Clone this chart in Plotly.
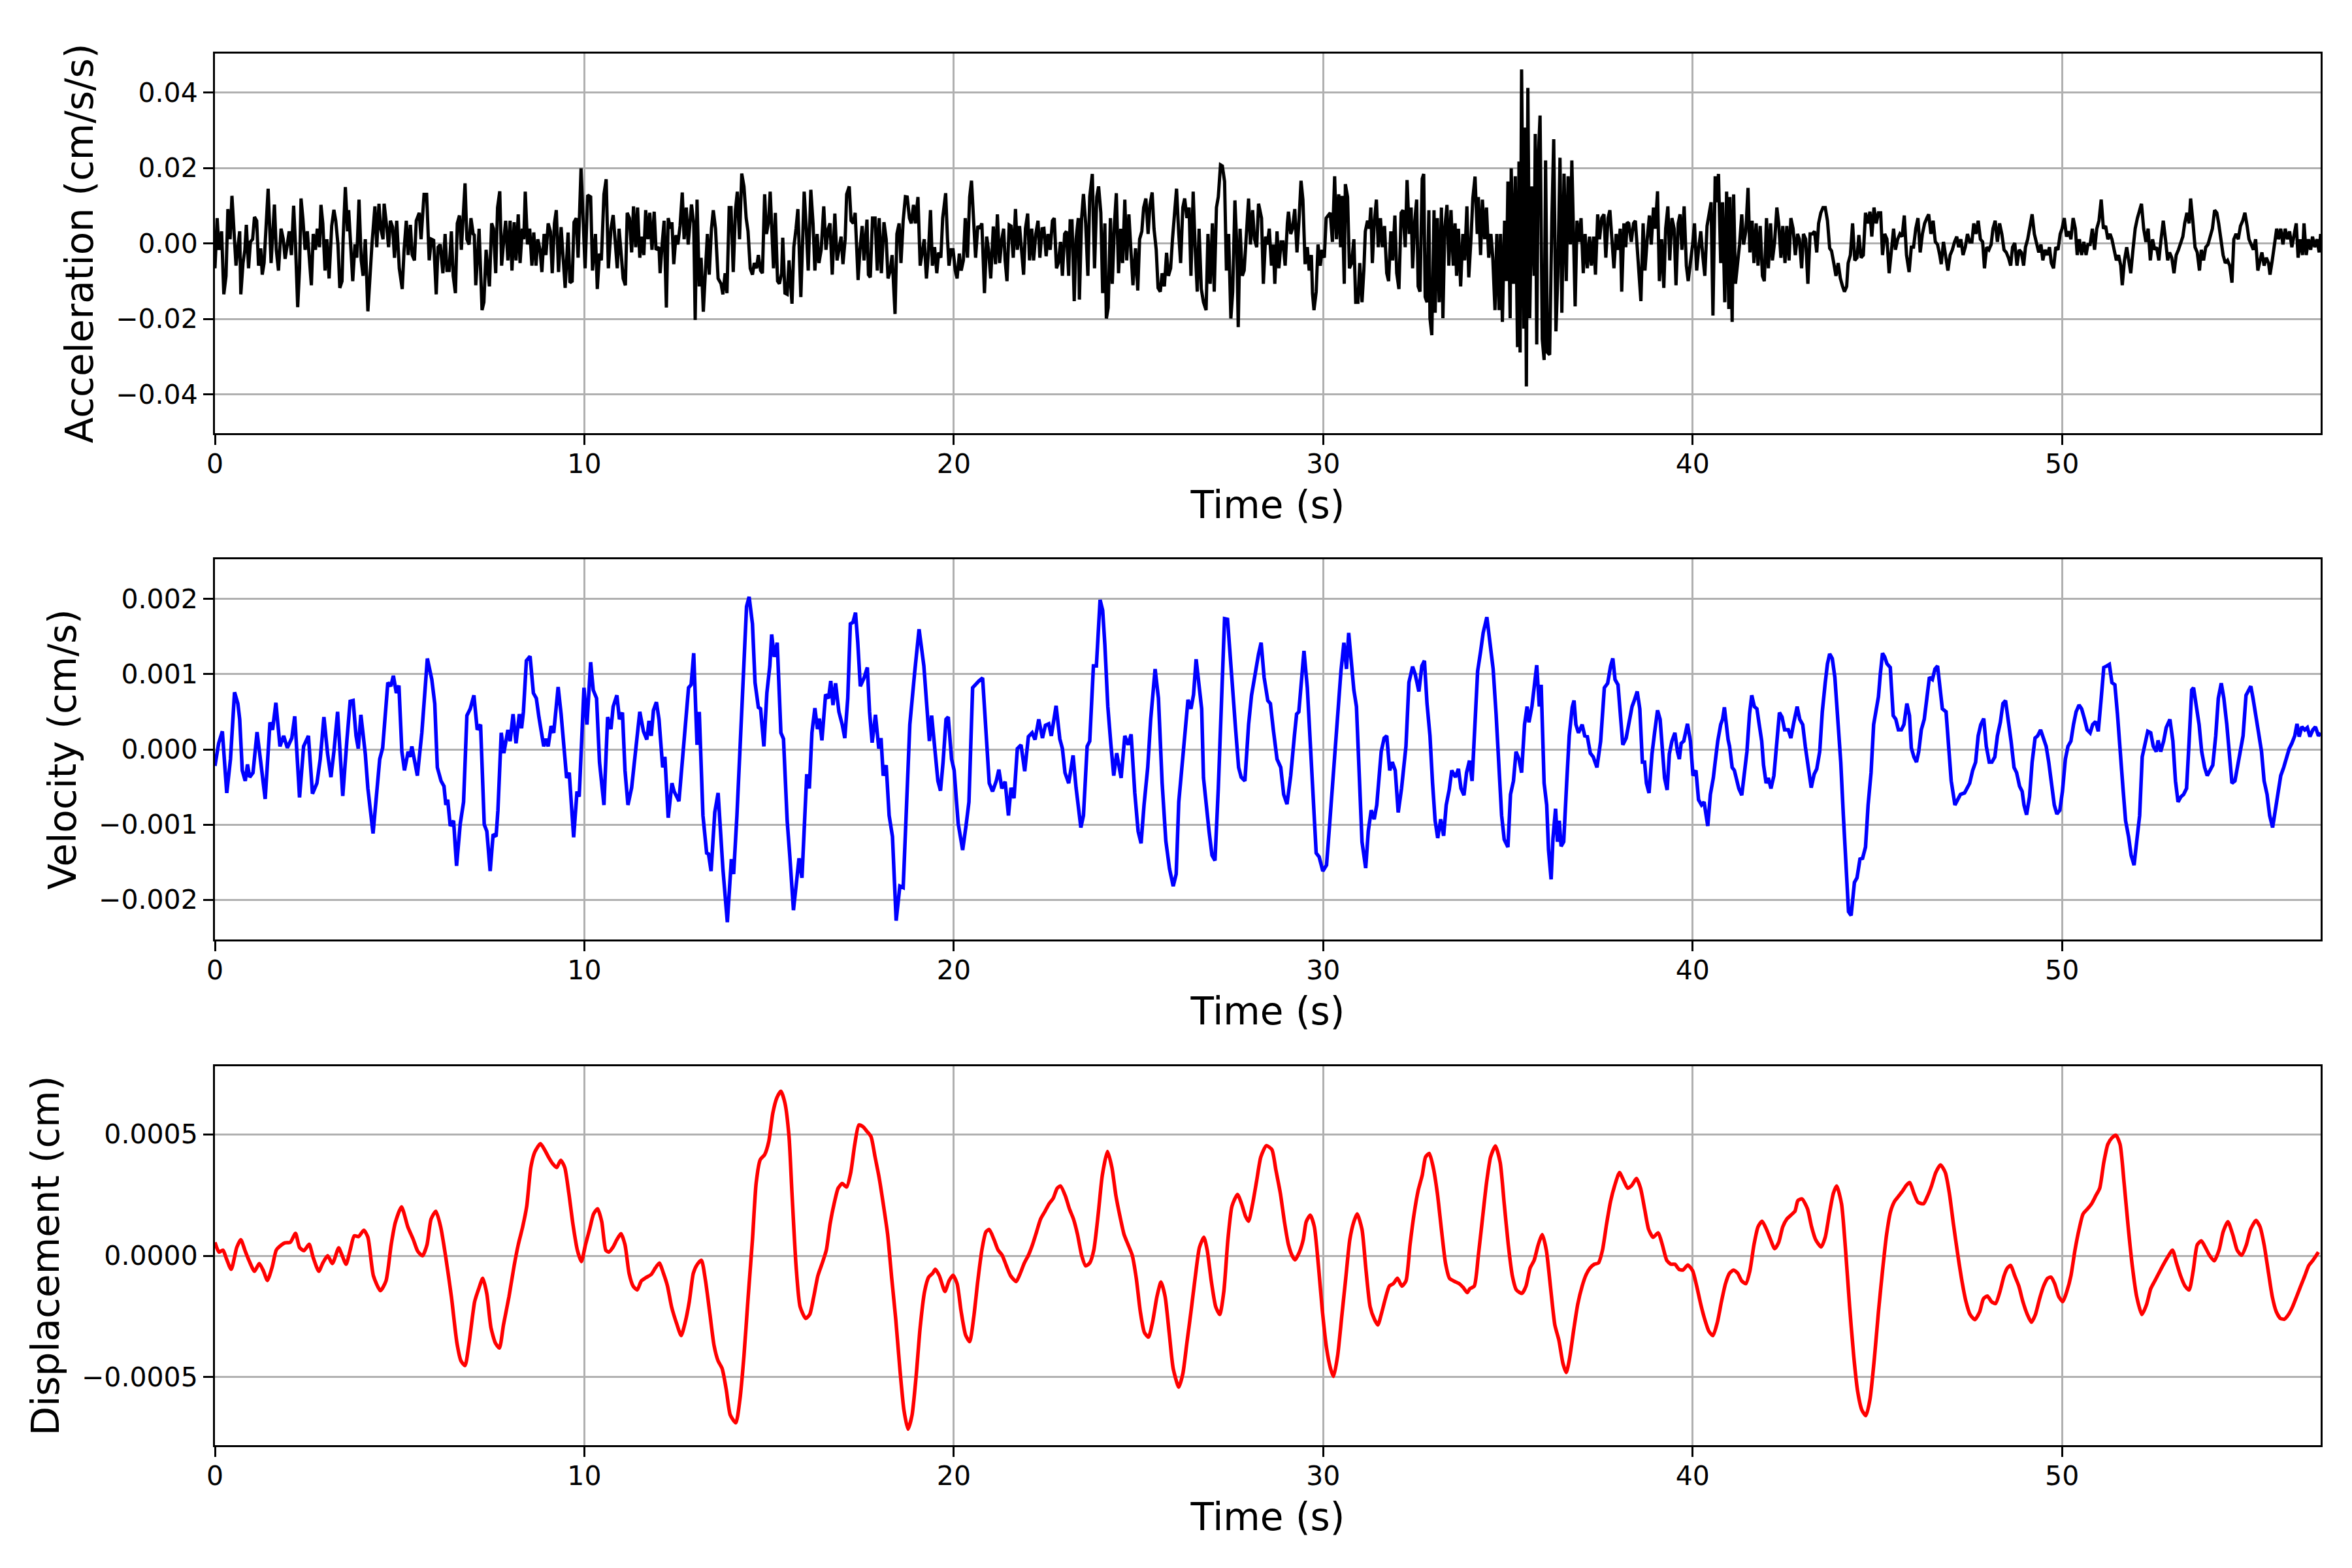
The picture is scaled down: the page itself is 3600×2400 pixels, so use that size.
import numpy as np
import plotly.graph_objects as go

# ---- data (time in s) ----
# acceleration, in units of 1e-3 cm/s/s
acc_time = [
    0.00, 0.06, 0.11, 0.18, 0.24, 0.30, 0.35, 0.41, 0.46, 0.52,
    0.57, 0.63, 0.67, 0.70, 0.76, 0.81, 0.85, 0.91, 0.96, 1.02,
    1.07, 1.13, 1.18, 1.24, 1.28, 1.33, 1.39, 1.44, 1.52, 1.57,
    1.61, 1.66, 1.72, 1.79, 1.85, 1.90, 1.96, 2.01, 2.07, 2.13,
    2.18, 2.24, 2.29, 2.33, 2.38, 2.44, 2.50, 2.55, 2.61, 2.66,
    2.72, 2.77, 2.83, 2.87, 2.92, 2.98, 3.03, 3.09, 3.16, 3.22,
    3.27, 3.33, 3.38, 3.44, 3.47, 3.53, 3.59, 3.62, 3.68, 3.73,
    3.79, 3.84, 3.90, 3.96, 4.01, 4.07, 4.14, 4.20, 4.25, 4.33,
    4.38, 4.44, 4.49, 4.55, 4.58, 4.64, 4.70, 4.75, 4.81, 4.86,
    4.92, 4.99, 5.07, 5.12, 5.18, 5.23, 5.29, 5.34, 5.40, 5.45,
    5.53, 5.58, 5.66, 5.73, 5.80, 5.86, 5.92, 5.99, 6.04, 6.10,
    6.17, 6.23, 6.28, 6.34, 6.40, 6.45, 6.51, 6.56, 6.62, 6.67,
    6.71, 6.77, 6.82, 6.88, 6.93, 6.99, 7.02, 7.06, 7.12, 7.15,
    7.23, 7.28, 7.34, 7.38, 7.43, 7.49, 7.54, 7.60, 7.65, 7.71,
    7.76, 7.82, 7.87, 7.93, 7.99, 8.04, 8.10, 8.15, 8.21, 8.26,
    8.32, 8.36, 8.40, 8.46, 8.52, 8.58, 8.63, 8.69, 8.74, 8.80,
    8.85, 8.91, 8.96, 9.02, 9.08, 9.13, 9.19, 9.24, 9.30, 9.37,
    9.43, 9.48, 9.56, 9.61, 9.67, 9.72, 9.78, 9.83, 9.91, 9.96,
    10.02, 10.09, 10.17, 10.22, 10.30, 10.35, 10.41, 10.46, 10.53, 10.59,
    10.65, 10.72, 10.78, 10.83, 10.89, 10.94, 11.00, 11.05, 11.11, 11.16,
    11.22, 11.28, 11.33, 11.39, 11.44, 11.50, 11.55, 11.61, 11.66, 11.72,
    11.77, 11.83, 11.89, 11.94, 12.02, 12.05, 12.11, 12.16, 12.22, 12.27,
    12.33, 12.37, 12.42, 12.48, 12.53, 12.59, 12.65, 12.70, 12.76, 12.81,
    12.90, 12.96, 13.00, 13.05, 13.11, 13.16, 13.22, 13.27, 13.33, 13.38,
    13.44, 13.49, 13.55, 13.62, 13.70, 13.75, 13.81, 13.86, 13.92, 13.97,
    14.03, 14.09, 14.14, 14.20, 14.26, 14.32, 14.38, 14.43, 14.49, 14.55,
    14.60, 14.66, 14.71, 14.77, 14.82, 14.88, 14.93, 14.99, 15.03, 15.08,
    15.12, 15.17, 15.23, 15.28, 15.34, 15.37, 15.43, 15.49, 15.54, 15.62,
    15.67, 15.73, 15.78, 15.86, 15.91, 15.95, 16.00, 16.06, 16.13, 16.19,
    16.24, 16.30, 16.35, 16.41, 16.48, 16.54, 16.60, 16.65, 16.71, 16.78,
    16.84, 16.89, 16.95, 17.00, 17.06, 17.10, 17.17, 17.22, 17.28, 17.33,
    17.41, 17.46, 17.52, 17.57, 17.65, 17.69, 17.74, 17.80, 17.87, 17.93,
    17.98, 18.04, 18.11, 18.17, 18.22, 18.28, 18.33, 18.41, 18.46, 18.52,
    18.57, 18.63, 18.69, 18.74, 18.80, 18.85, 18.91, 18.96, 19.03, 19.09,
    19.15, 19.20, 19.26, 19.31, 19.37, 19.42, 19.48, 19.54, 19.59, 19.65,
    19.70, 19.78, 19.83, 19.87, 19.93, 19.98, 20.04, 20.09, 20.15, 20.20,
    20.26, 20.31, 20.37, 20.43, 20.48, 20.54, 20.59, 20.65, 20.70, 20.76,
    20.83, 20.89, 20.94, 21.00, 21.07, 21.13, 21.18, 21.24, 21.30, 21.35,
    21.39, 21.44, 21.50, 21.55, 21.61, 21.67, 21.72, 21.78, 21.83, 21.89,
    21.94, 22.00, 22.05, 22.11, 22.16, 22.22, 22.28, 22.33, 22.39, 22.44,
    22.50, 22.55, 22.61, 22.67, 22.72, 22.78, 22.83, 22.89, 22.94, 23.00,
    23.05, 23.11, 23.15, 23.20, 23.26, 23.31, 23.37, 23.40, 23.46, 23.51,
    23.57, 23.63, 23.68, 23.75, 23.81, 23.87, 23.92, 23.98, 24.03, 24.09,
    24.13, 24.18, 24.24, 24.29, 24.35, 24.40, 24.46, 24.52, 24.57, 24.63,
    24.68, 24.74, 24.79, 24.85, 24.92, 24.98, 25.03, 25.09, 25.14, 25.20,
    25.26, 25.31, 25.37, 25.42, 25.48, 25.53, 25.59, 25.64, 25.70, 25.76,
    25.81, 25.87, 25.92, 25.98, 26.03, 26.09, 26.14, 26.20, 26.25, 26.31,
    26.37, 26.42, 26.48, 26.53, 26.59, 26.64, 26.70, 26.76, 26.83, 26.88,
    26.94, 27.00, 27.05, 27.11, 27.16, 27.22, 27.27, 27.33, 27.38, 27.44,
    27.50, 27.55, 27.61, 27.66, 27.70, 27.75, 27.81, 27.86, 27.92, 27.98,
    28.03, 28.09, 28.14, 28.20, 28.25, 28.33, 28.38, 28.44, 28.49, 28.54,
    28.60, 28.65, 28.69, 28.75, 28.80, 28.86, 28.91, 28.97, 29.03, 29.06,
    29.12, 29.17, 29.23, 29.29, 29.34, 29.40, 29.45, 29.51, 29.57, 29.62,
    29.68, 29.71, 29.75, 29.81, 29.86, 29.92, 29.97, 30.03, 30.08, 30.14,
    30.19, 30.25, 30.31, 30.36, 30.42, 30.47, 30.51, 30.57, 30.60, 30.66,
    30.71, 30.77, 30.83, 30.88, 30.94, 30.99, 31.05, 31.10, 31.14, 31.20,
    31.25, 31.29, 31.33, 31.38, 31.44, 31.49, 31.55, 31.60, 31.66, 31.72,
    31.77, 31.83, 31.88, 31.94, 31.99, 32.05, 32.11, 32.16, 32.22, 32.27,
    32.33, 32.38, 32.42, 32.48, 32.53, 32.57, 32.62, 32.68, 32.72, 32.76,
    32.81, 32.86, 32.89, 32.94, 33.00, 33.03, 33.09, 33.14, 33.20, 33.24,
    33.29, 33.35, 33.40, 33.46, 33.52, 33.57, 33.61, 33.66, 33.72, 33.78,
    33.83, 33.89, 33.94, 34.00, 34.05, 34.11, 34.17, 34.20, 34.26, 34.31,
    34.37, 34.42, 34.48, 34.54, 34.59, 34.65, 34.70, 34.76, 34.80, 34.85,
    34.91, 34.96, 35.00, 35.06, 35.09, 35.15, 35.20, 35.26, 35.30, 35.33,
    35.37, 35.43, 35.46, 35.50, 35.54, 35.59, 35.65, 35.71, 35.74, 35.78,
    35.82, 35.87, 35.93, 35.98, 36.02, 36.07, 36.13, 36.19, 36.24, 36.30,
    36.35, 36.41, 36.46, 36.52, 36.58, 36.63, 36.69, 36.73, 36.78, 36.82,
    36.87, 36.93, 36.98, 37.04, 37.09, 37.15, 37.21, 37.26, 37.32, 37.37,
    37.43, 37.48, 37.54, 37.60, 37.65, 37.71, 37.76, 37.82, 37.87, 37.93,
    37.99, 38.04, 38.08, 38.14, 38.19, 38.23, 38.27, 38.34, 38.40, 38.45,
    38.51, 38.56, 38.60, 38.66, 38.71, 38.77, 38.83, 38.88, 38.94, 38.99,
    39.05, 39.10, 39.16, 39.22, 39.27, 39.33, 39.38, 39.44, 39.50, 39.55,
    39.61, 39.66, 39.71, 39.77, 39.83, 39.88, 39.94, 40.00, 40.05, 40.11,
    40.16, 40.22, 40.28, 40.33, 40.39, 40.44, 40.50, 40.55, 40.61, 40.66,
    40.70, 40.76, 40.81, 40.87, 40.92, 40.98, 41.01, 41.07, 41.11, 41.16,
    41.22, 41.27, 41.33, 41.38, 41.44, 41.50, 41.55, 41.61, 41.66, 41.72,
    41.77, 41.83, 41.89, 41.94, 42.00, 42.05, 42.11, 42.16, 42.22, 42.28,
    42.33, 42.39, 42.44, 42.50, 42.55, 42.61, 42.66, 42.72, 42.78, 42.84,
    42.89, 42.95, 43.00, 43.06, 43.12, 43.18, 43.24, 43.30, 43.36, 43.41,
    43.47, 43.53, 43.59, 43.65, 43.71, 43.76, 43.82, 43.88, 43.94, 44.00,
    44.06, 44.11, 44.17, 44.21, 44.27, 44.33, 44.39, 44.45, 44.50, 44.56,
    44.62, 44.68, 44.74, 44.80, 44.85, 44.91, 44.97, 45.03, 45.09, 45.14,
    45.20, 45.26, 45.32, 45.38, 45.44, 45.49, 45.55, 45.61, 45.67, 45.73,
    45.79, 45.86, 45.92, 45.98, 46.04, 46.10, 46.16, 46.22, 46.28, 46.34,
    46.39, 46.45, 46.51, 46.57, 46.63, 46.69, 46.73, 46.79, 46.85, 46.91,
    46.97, 47.03, 47.09, 47.15, 47.20, 47.26, 47.32, 47.38, 47.44, 47.50,
    47.56, 47.61, 47.67, 47.73, 47.79, 47.85, 47.90, 47.96, 48.02, 48.08,
    48.13, 48.19, 48.25, 48.31, 48.37, 48.43, 48.49, 48.55, 48.61, 48.66,
    48.72, 48.78, 48.84, 48.90, 48.96, 49.01, 49.07, 49.13, 49.19, 49.25,
    49.31, 49.37, 49.43, 49.48, 49.54, 49.60, 49.66, 49.71, 49.77, 49.83,
    49.89, 49.95, 50.00, 50.06, 50.12, 50.18, 50.24, 50.30, 50.36, 50.41,
    50.47, 50.53, 50.59, 50.65, 50.70, 50.76, 50.82, 50.88, 50.94, 51.00,
    51.06, 51.12, 51.18, 51.24, 51.30, 51.35, 51.41, 51.47, 51.53, 51.59,
    51.63, 51.69, 51.75, 51.80, 51.86, 51.92, 51.98, 52.04, 52.10, 52.15,
    52.21, 52.27, 52.33, 52.39, 52.45, 52.51, 52.56, 52.62, 52.68, 52.74,
    52.80, 52.86, 52.91, 52.97, 53.03, 53.09, 53.15, 53.21, 53.27, 53.32,
    53.38, 53.44, 53.48, 53.54, 53.60, 53.66, 53.72, 53.77, 53.83, 53.89,
    53.95, 54.01, 54.07, 54.13, 54.19, 54.24, 54.30, 54.36, 54.42, 54.48,
    54.54, 54.60, 54.65, 54.71, 54.77, 54.83, 54.89, 54.95, 55.01, 55.06,
    55.12, 55.18, 55.24, 55.30, 55.36, 55.41, 55.47, 55.53, 55.59, 55.63,
    55.69, 55.75, 55.81, 55.86, 55.92, 55.98, 56.04, 56.10, 56.16, 56.22,
    56.28, 56.34, 56.39, 56.45, 56.51, 56.55, 56.61, 56.67, 56.73, 56.78,
    56.84, 56.90, 56.96, 57.00,
]
acc_milli = [
    -6.6, 6.7, -1.7, 3.2, -13.5, -8.6, 9.1, 1.1, 12.6, 3.9,
    -5.9, -0.3, 3.2, -13.5, -5.2, -1.7, 4.9, -6.6, 0.4, 1.1,
    7.0, 6.0, -5.9, -1.3, -8.3, -5.2, 3.9, 14.5, -5.2, 3.9,
    10.3, -1.7, -7.2, 3.9, 1.1, -4.1, -0.3, 3.2, -3.1, 10.0,
    -0.3, -16.9, -6.6, 11.9, 6.7, -1.7, 3.2, -3.1, -11.1, 2.5,
    -1.7, 3.9, -1.0, 10.2, 5.3, -7.2, 1.1, -9.3, 4.6, 8.9,
    6.0, -0.3, -11.8, -10.0, 1.1, 14.9, 3.2, 8.8, -1.7, -10.0,
    -0.3, -3.8, 11.6, -4.5, -8.6, 1.1, -18.0, -7.2, -0.3, 9.8,
    -1.0, 10.5, 3.9, 1.1, 10.5, 5.3, -1.0, 6.0, 4.3, -3.8,
    6.0, -6.6, -12.1, -1.7, 6.0, -3.1, 4.9, -3.1, -4.5, 6.0,
    8.1, 1.1, 13.0, 13.0, -4.5, 1.1, 0.8, -13.5, -1.0, -0.3,
    -7.9, 2.5, -7.2, -7.2, 3.2, -8.6, -13.2, 5.3, 7.4, -1.7,
    6.7, 15.9, 1.1, -0.3, 6.7, 2.5, 2.2, -11.1, -1.7, 3.9,
    -17.7, -15.6, -1.7, -5.2, -11.4, 5.3, 3.9, -7.9, 9.5, 13.8,
    -5.9, 1.1, 6.0, -4.5, 6.0, -7.2, 5.6, -4.5, 7.7, -5.2,
    3.9, 1.1, 13.7, -0.3, 3.9, -5.9, 2.9, -5.9, 1.1, -1.7,
    -7.6, 2.5, -3.1, 5.3, 3.2, -7.9, 5.3, 8.8, -7.6, 4.3,
    -4.5, -11.8, 2.9, -10.4, -10.0, 5.6, 6.7, -3.8, 19.9, 5.3,
    -6.6, 12.8, 12.3, -7.2, 2.5, -12.1, -2.7, -4.5, 13.0, 17.0,
    -6.6, 3.9, 7.5, 1.1, -6.6, 3.9, -3.8, -9.3, -11.1, 8.1,
    6.7, -2.4, 9.8, -1.0, 9.5, -3.8, 1.8, -3.1, 8.8, 1.1,
    8.1, -1.7, 8.4, -1.7, -1.0, -7.9, 0.4, 6.0, -17.0, 6.7,
    3.9, 5.6, -5.5, 2.2, -0.3, 4.6, 13.5, 1.1, 9.5, -0.3,
    10.3, 5.3, -20.3, 11.6, -11.4, -3.8, -18.1, -7.2, 2.5, -8.3,
    3.9, 8.8, 3.9, -9.3, -10.7, -13.5, -7.9, -13.2, 9.5, 9.5,
    -7.6, 8.8, 13.7, 1.1, 18.5, 15.1, 6.7, 3.2, -6.6, -8.3,
    -5.2, -6.6, -3.1, -7.2, -7.9, 13.0, 2.5, 6.0, 13.7, 2.5,
    -6.6, 8.1, -10.0, -10.7, -7.9, 1.5, -13.2, -13.5, -4.5, -16.0,
    -1.0, 3.9, 9.1, -14.2, 3.9, 13.7, 5.3, -7.2, 14.2, 5.3,
    -7.2, 2.5, -5.2, -1.7, 9.8, -1.7, 3.9, 5.3, -8.3, 7.9,
    -4.5, -1.0, 1.8, -5.5, 1.1, 13.0, 15.1, 6.0, 5.3, 8.1,
    -9.7, -1.7, 4.6, -4.5, 6.3, -8.3, -9.0, 6.7, 6.7, -7.2,
    6.7, -7.9, 5.6, 1.1, -9.3, -7.2, -3.1, -18.7, 2.5, 5.3,
    -5.2, 6.0, 12.4, 12.3, 6.7, 5.3, 10.2, 5.3, 12.3, -5.9,
    -1.7, 1.1, -9.3, -3.1, 8.8, -5.9, -1.0, -7.9, -2.4, -3.8,
    6.7, 13.3, 1.1, -5.9, -1.7, -1.7, -7.2, -9.3, -2.7, -7.2,
    -4.5, 6.7, -3.8, 12.3, 16.6, 5.3, -3.8, 4.6, 3.9, 5.3,
    -13.2, 1.8, -1.7, -9.3, 4.5, -5.5, 7.7, -5.2, 1.1, 3.9,
    -4.5, -10.0, 4.9, 4.6, -3.8, 9.1, -1.7, 4.6, -0.3, -8.3,
    3.9, 7.9, -4.5, 3.9, -4.5, 2.5, 6.0, -3.8, 3.9, 4.0,
    -3.4, 2.5, -1.7, 6.0, 6.7, -6.6, -5.2, 0.4, -8.6, 2.5,
    3.2, -8.6, 6.0, 6.0, -15.3, 1.1, 6.7, -14.9, 6.7, 13.1,
    5.3, -8.6, 12.3, 18.4, -6.6, 12.3, 15.1, 8.1, -13.2, 5.3,
    -19.9, -17.0, 6.7, -10.7, 5.3, 13.3, -7.9, 3.9, -5.2, 11.6,
    -4.5, 7.7, -1.0, -11.1, -1.3, -12.5, 1.1, 3.2, 9.5, 11.9,
    2.5, 10.2, 13.5, 3.9, -1.7, -11.8, -12.8, -7.9, -11.4, -2.5,
    -8.6, -6.6, 1.1, 8.8, 14.5, 2.5, -5.2, 9.5, 11.9, 6.7,
    9.5, -8.6, 13.7, -0.3, -12.8, 3.9, -12.1, -15.6, -17.7, 2.5,
    -10.7, 5.3, -12.8, 9.5, 12.3, 20.8, 20.5, 16.4, -7.2, 2.5,
    -19.9, -12.8, 11.4, -0.3, -22.2, 3.9, -8.6, -7.2, 2.5, 11.9,
    -0.3, 8.8, 1.1, -1.0, 10.5, 6.7, -10.7, 1.8, -0.3, 3.9,
    -5.9, -0.3, -10.7, 3.2, -6.6, 0.4, 0.4, -5.9, 5.3, 8.4,
    2.5, 3.9, 9.1, -2.4, 5.3, 16.6, 11.6, -5.5, -1.0, -7.2,
    -3.1, -13.2, -17.7, -12.8, -0.3, -5.9, -1.7, -3.8, 6.7, 7.4,
    8.1, 0.4, 17.8, 1.1, 13.0, -1.0, 12.6, -10.7, 15.7, 12.3,
    -6.6, -5.2, 1.1, -15.6, -15.6, -5.2, -15.6, -7.2, 3.2, 6.0,
    3.9, 9.5, -5.2, 5.3, 11.6, -1.0, 6.7, -1.0, 4.6, -7.9,
    -10.0, 3.2, -4.5, 7.4, -7.9, -12.1, 8.1, 8.8, -1.0, 16.8,
    2.5, 9.5, -6.6, 6.0, 11.6, -11.4, -12.8, 17.1, 18.4, -14.2,
    -15.6, 8.8, -19.8, -24.3, 8.8, -18.4, 6.7, -15.6, 9.5, -19.8,
    3.9, 10.2, -5.9, 8.8, -5.9, 5.3, -8.6, 3.9, -11.4, 2.5,
    -4.5, 9.8, -9.0, 1.1, 11.9, 17.7, 2.5, 12.3, -3.1, 11.6,
    1.1, 9.5, -3.8, 2.5, -3.8, -17.7, 2.5, -17.7, 2.5, -20.8,
    6.0, -10.0, 16.4, -19.8, 19.9, -10.7, 17.8, -27.5, 21.7, -28.9,
    46.1, -22.6, 30.7, -37.9, 41.2, -19.8, 15.1, -8.6, 29.0, -26.8,
    22.0, 33.9, -25.4, -30.9, 22.0, -28.9, -29.5, 6.7, 27.6, -23.3,
    -8.6, 22.7, -18.4, 18.5, -10.0, 17.8, -0.3, 22.0, -5.9, -16.7,
    6.0, 0.4, 6.7, -7.9, 2.5, -6.6, 1.8, -5.9, 1.8, -8.3,
    7.7, 1.1, 6.7, 7.7, -3.8, 6.7, 8.8, -0.3, -6.6, 2.5,
    -1.7, 3.9, -12.8, 5.3, -1.0, 5.6, 5.3, 0.4, 5.3, 6.0,
    -3.8, -8.6, -15.3, 5.3, -7.2, 1.1, 7.4, -0.3, 9.5, 3.9,
    13.8, -10.0, 1.1, -11.8, 3.9, 9.8, -4.5, 6.7, 3.9, -11.1,
    5.3, 7.7, -1.7, 9.8, -5.9, -10.0, -5.9, -0.3, 5.3, -7.2,
    -1.7, 3.2, -3.8, -8.6, 4.6, 8.1, 10.9, -19.1, 17.8, 10.9,
    18.4, -5.2, 10.9, -15.6, 13.7, -17.4, 12.3, -20.8, 13.0, -10.7,
    -5.9, -0.3, 7.7, -0.3, 3.2, 14.7, -2.4, 6.0, -5.2, 5.3,
    -5.9, 4.6, -8.6, -10.0, 6.7, -6.6, 5.3, -4.5, 0.4, 9.5,
    5.3, -3.8, 4.6, -5.2, 4.6, -4.5, 6.7, 3.9, -3.1, 2.5,
    1.1, -6.6, 2.5, 1.1, -10.7, 2.5, 2.5, 3.2, -2.4, 5.3,
    8.1, 9.5, 9.5, 6.0, -1.3, -2.0, -5.2, -8.6, -5.2, -9.3,
    -11.4, -12.8, -11.4, -5.2, -3.1, 5.3, -4.5, -3.8, 2.2, -3.8,
    -3.1, 8.1, 5.3, 8.4, 1.8, 9.5, 5.3, 8.1, 8.1, -3.1,
    2.5, 1.1, -7.9, -1.0, 3.9, -1.7, 1.1, 2.5, 1.8, 7.4,
    -3.1, -7.6, -1.0, -1.0, 3.9, 6.7, -2.4, 2.5, 5.3, 6.7,
    7.7, 2.5, 6.0, 0.4, -0.3, -3.1, -5.5, 0.4, -3.1, -7.2,
    -3.1, -1.7, 0.4, 1.8, -1.0, 1.1, -3.1, -1.0, 2.5, 0.4,
    0.4, 5.3, 2.5, 6.0, 1.1, 0.4, -6.6, -1.0, -1.7, -0.3,
    3.9, 6.0, 0.4, 5.3, 2.5, -1.7, -2.4, -3.8, -5.9, -1.0,
    0.1, -5.9, -1.7, -2.4, -5.9, -1.0, 1.1, 4.6, 7.7, 2.5,
    0.4, -2.4, -0.3, -4.5, -1.7, -3.1, -1.0, -5.2, -6.6, -1.0,
    -1.7, 2.5, 3.9, 6.7, 1.8, 3.2, 1.1, 6.7, 3.9, -3.1,
    1.1, -3.1, 0.4, -3.1, -0.3, -0.3, 3.9, -1.7, 3.9, 6.0,
    11.6, 3.9, 4.6, 1.1, 2.5, 1.1, -1.7, -4.5, -3.1, -5.9,
    -11.1, -4.5, -1.0, -4.5, -7.9, -1.7, 3.9, 6.7, 8.8, 10.5,
    3.9, 0.4, 3.9, -4.5, 1.1, -1.7, -1.0, -4.5, 1.1, 6.0,
    1.1, -4.5, -2.4, -3.8, -7.9, -3.1, -1.7, 0.4, 1.8, 5.3,
    8.1, 5.3, 11.9, 6.0, -1.0, -2.4, -7.2, -1.7, -4.5, -1.0,
    -0.3, 1.8, 3.9, 8.8, 8.1, 5.3, 1.1, -3.1, -5.2, -4.5,
    -5.9, -10.4, 1.1, 2.5, 1.1, 4.6, 6.0, 8.1, 4.6, 1.1,
    -0.3, -1.7, 1.1, -7.2, -4.5, -2.4, -5.9, -3.8, -5.2, -8.3,
    -4.5, -0.3, 3.9, 1.1, 3.9, -0.3, 3.9, 1.1, 3.2, -1.0,
    2.5, 5.3, -3.8, 1.1, -3.1, 5.3, -3.1, 1.1, -1.7, 1.8,
    -1.0, 1.1, -2.4, 2.5,
]

# velocity, in units of 1e-3 cm/s
vel_time = [
    0.00, 0.10, 0.20, 0.32, 0.42, 0.53, 0.62, 0.67, 0.74, 0.82,
    0.88, 0.94, 1.03, 1.14, 1.24, 1.36, 1.49, 1.56, 1.65, 1.76,
    1.86, 1.96, 2.08, 2.16, 2.29, 2.40, 2.53, 2.64, 2.76, 2.85,
    2.95, 3.05, 3.14, 3.22, 3.32, 3.46, 3.57, 3.66, 3.74, 3.82,
    3.88, 3.95, 4.07, 4.14, 4.28, 4.37, 4.46, 4.54, 4.61, 4.68,
    4.76, 4.83, 4.91, 4.98, 5.06, 5.13, 5.23, 5.28, 5.33, 5.48,
    5.60, 5.68, 5.75, 5.87, 5.95, 6.02, 6.12, 6.20, 6.25, 6.30,
    6.37, 6.46, 6.54, 6.64, 6.73, 6.82, 6.91, 7.01, 7.10, 7.19,
    7.29, 7.36, 7.45, 7.53, 7.61, 7.66, 7.75, 7.82, 7.93, 7.99,
    8.07, 8.15, 8.24, 8.30, 8.35, 8.43, 8.53, 8.62, 8.70, 8.77,
    8.90, 8.96, 9.02, 9.10, 9.17, 9.29, 9.37, 9.52, 9.59, 9.71,
    9.80, 9.86, 9.99, 10.07, 10.17, 10.24, 10.33, 10.41, 10.53, 10.63,
    10.72, 10.78, 10.88, 10.95, 11.03, 11.10, 11.18, 11.28, 11.38, 11.50,
    11.60, 11.69, 11.75, 11.81, 11.87, 11.95, 12.02, 12.12, 12.18, 12.27,
    12.37, 12.43, 12.56, 12.64, 12.72, 12.82, 12.89, 12.96, 13.05, 13.11,
    13.21, 13.31, 13.36, 13.43, 13.53, 13.62, 13.75, 13.87, 13.98, 14.04,
    14.13, 14.23, 14.31, 14.39, 14.46, 14.55, 14.62, 14.71, 14.77, 14.86,
    14.94, 15.02, 15.07, 15.14, 15.22, 15.32, 15.39, 15.49, 15.56, 15.66,
    15.75, 15.81, 15.89, 15.96, 16.02, 16.09, 16.16, 16.24, 16.31, 16.36,
    16.43, 16.53, 16.61, 16.67, 16.73, 16.80, 16.89, 16.98, 17.05, 17.13,
    17.20, 17.27, 17.34, 17.40, 17.47, 17.57, 17.66, 17.72, 17.79, 17.88,
    17.97, 18.03, 18.09, 18.17, 18.25, 18.34, 18.44, 18.54, 18.63, 18.71,
    18.81, 18.94, 19.06, 19.19, 19.29, 19.34, 19.40, 19.47, 19.57, 19.64,
    19.71, 19.79, 19.85, 19.94, 20.01, 20.12, 20.24, 20.33, 20.41, 20.51,
    20.58, 20.68, 20.78, 20.87, 20.96, 21.05, 21.15, 21.22, 21.30, 21.39,
    21.48, 21.55, 21.63, 21.72, 21.82, 21.92, 22.02, 22.12, 22.20, 22.30,
    22.40, 22.48, 22.57, 22.64, 22.77, 22.87, 22.94, 23.01, 23.11, 23.23,
    23.31, 23.44, 23.51, 23.61, 23.68, 23.78, 23.86, 23.96, 24.03, 24.09,
    24.17, 24.25, 24.33, 24.41, 24.53, 24.63, 24.72, 24.80, 24.90, 24.99,
    25.07, 25.15, 25.25, 25.33, 25.45, 25.54, 25.64, 25.74, 25.84, 25.94,
    26.02, 26.09, 26.16, 26.27, 26.34, 26.42, 26.49, 26.56, 26.64, 26.71,
    26.76, 26.84, 26.91, 26.99, 27.07, 27.16, 27.26, 27.33, 27.41, 27.48,
    27.56, 27.63, 27.71, 27.78, 27.88, 27.98, 28.06, 28.15, 28.25, 28.32,
    28.40, 28.50, 28.57, 28.65, 28.75, 28.85, 28.93, 29.02, 29.12, 29.22,
    29.28, 29.34, 29.40, 29.48, 29.57, 29.67, 29.74, 29.81, 29.89, 29.99,
    30.09, 30.16, 30.26, 30.33, 30.41, 30.48, 30.56, 30.63, 30.69, 30.75,
    30.83, 30.90, 30.98, 31.05, 31.15, 31.22, 31.30, 31.38, 31.45, 31.50,
    31.57, 31.65, 31.72, 31.80, 31.87, 31.95, 32.03, 32.12, 32.24, 32.32,
    32.42, 32.49, 32.59, 32.67, 32.74, 32.81, 32.89, 32.96, 33.03, 33.10,
    33.18, 33.26, 33.33, 33.41, 33.48, 33.58, 33.66, 33.73, 33.81, 33.88,
    33.96, 34.03, 34.11, 34.18, 34.26, 34.33, 34.43, 34.52, 34.60, 34.68,
    34.75, 34.83, 34.90, 35.00, 35.07, 35.15, 35.22, 35.30, 35.37, 35.45,
    35.52, 35.57, 35.65, 35.70, 35.78, 35.85, 35.90, 35.98, 36.05, 36.10,
    36.17, 36.22, 36.29, 36.34, 36.39, 36.44, 36.51, 36.59, 36.66, 36.74,
    36.79, 36.84, 36.91, 37.01, 37.08, 37.15, 37.23, 37.31, 37.41, 37.51,
    37.61, 37.70, 37.78, 37.84, 37.90, 37.98, 38.05, 38.11, 38.20, 38.27,
    38.36, 38.42, 38.50, 38.57, 38.64, 38.70, 38.75, 38.82, 38.90, 38.97,
    39.05, 39.12, 39.20, 39.24, 39.31, 39.37, 39.44, 39.52, 39.59, 39.64,
    39.69, 39.76, 39.86, 39.94, 40.01, 40.09, 40.16, 40.24, 40.31, 40.41,
    40.48, 40.56, 40.61, 40.68, 40.76, 40.81, 40.86, 40.91, 40.96, 41.00,
    41.07, 41.13, 41.18, 41.25, 41.33, 41.40, 41.47, 41.54, 41.60, 41.67,
    41.74, 41.80, 41.87, 41.92, 41.99, 42.05, 42.12, 42.20, 42.27, 42.35,
    42.42, 42.49, 42.59, 42.66, 42.74, 42.83, 42.90, 42.98, 43.05, 43.14,
    43.21, 43.29, 43.36, 43.44, 43.51, 43.59, 43.65, 43.71, 43.78, 43.85,
    43.93, 44.01, 44.08, 44.16, 44.22, 44.29, 44.38, 44.45, 44.53, 44.60,
    44.68, 44.75, 44.83, 44.90, 44.98, 45.03, 45.08, 45.14, 45.20, 45.26,
    45.35, 45.43, 45.50, 45.57, 45.65, 45.72, 45.80, 45.87, 45.92, 45.99,
    46.06, 46.12, 46.19, 46.27, 46.34, 46.41, 46.49, 46.56, 46.63, 46.69,
    46.76, 46.86, 46.93, 47.00, 47.10, 47.18, 47.25, 47.36, 47.43, 47.50,
    47.58, 47.66, 47.73, 47.80, 47.88, 47.95, 48.03, 48.10, 48.18, 48.25,
    48.33, 48.40, 48.47, 48.55, 48.62, 48.70, 48.77, 48.85, 48.92, 48.97,
    49.04, 49.12, 49.19, 49.27, 49.34, 49.42, 49.49, 49.57, 49.64, 49.71,
    49.79, 49.86, 49.94, 50.01, 50.09, 50.16, 50.24, 50.31, 50.38, 50.46,
    50.53, 50.61, 50.68, 50.76, 50.83, 50.91, 50.98, 51.06, 51.13, 51.21,
    51.28, 51.35, 51.43, 51.50, 51.58, 51.65, 51.72, 51.80, 51.87, 51.95,
    52.02, 52.10, 52.17, 52.25, 52.32, 52.40, 52.47, 52.55, 52.60, 52.67,
    52.75, 52.82, 52.92, 53.00, 53.07, 53.14, 53.22, 53.29, 53.37, 53.44,
    53.51, 53.56, 53.64, 53.71, 53.78, 53.86, 53.93, 54.01, 54.08, 54.16,
    54.23, 54.31, 54.38, 54.46, 54.53, 54.60, 54.68, 54.75, 54.83, 54.90,
    54.98, 55.05, 55.11, 55.17, 55.25, 55.32, 55.40, 55.47, 55.55, 55.62,
    55.70, 55.77, 55.85, 55.92, 56.00, 56.07, 56.15, 56.22, 56.30, 56.36,
    56.42, 56.49, 56.57, 56.64, 56.71, 56.79, 56.86, 56.94, 57.00,
]
vel_milli = [
    -0.22, 0.08, 0.24, -0.58, -0.13, 0.76, 0.61, 0.40, -0.28, -0.42,
    -0.20, -0.37, -0.31, 0.23, -0.17, -0.66, 0.36, 0.26, 0.62, 0.04,
    0.18, 0.02, 0.15, 0.44, -0.64, 0.04, 0.18, -0.59, -0.45, -0.13,
    0.43, -0.06, -0.37, -0.03, 0.50, -0.62, 0.11, 0.64, 0.65, 0.18,
    0.01, 0.46, -0.06, -0.52, -1.12, -0.65, -0.13, 0.02, 0.54, 0.89,
    0.84, 0.98, 0.75, 0.85, -0.03, -0.28, -0.03, -0.10, 0.04, -0.35,
    0.22, 0.75, 1.21, 0.93, 0.61, -0.24, -0.42, -0.49, -0.74, -0.67,
    -1.02, -0.95, -1.55, -0.99, -0.70, 0.45, 0.54, 0.72, 0.26, 0.33,
    -1.00, -1.09, -1.62, -1.13, -1.16, -0.81, 0.22, -0.05, 0.26, 0.11,
    0.47, 0.08, 0.47, 0.28, 0.50, 1.18, 1.24, 0.75, 0.68, 0.43,
    0.04, 0.14, 0.04, 0.31, 0.22, 0.83, 0.47, -0.38, -0.31, -1.17,
    -0.56, -0.63, 0.82, 0.33, 1.16, 0.79, 0.68, -0.17, -0.74, 0.43,
    0.27, 0.57, 0.72, 0.40, 0.49, -0.28, -0.74, -0.51, -0.06, 0.50,
    0.24, 0.13, 0.38, 0.18, 0.52, 0.63, 0.40, -0.24, -0.10, -0.91,
    -0.45, -0.56, -0.69, -0.24, 0.14, 0.82, 0.86, 1.28, 0.06, 0.50,
    -0.88, -1.38, -1.39, -1.62, -0.84, -0.58, -1.59, -2.30, -1.46, -1.66,
    -0.88, 0.18, 1.18, 1.90, 2.03, 1.67, 0.89, 0.56, 0.54, 0.04,
    0.75, 1.11, 1.53, 1.23, 1.42, 0.22, 0.14, -0.95, -1.41, -2.14,
    -1.73, -1.45, -1.71, -0.88, -0.33, -0.52, 0.22, 0.55, 0.27, 0.41,
    0.12, 0.73, 0.68, 0.91, 0.59, 0.88, 0.50, 0.33, 0.15, 0.68,
    1.67, 1.69, 1.82, 1.43, 0.84, 0.95, 1.09, 0.50, 0.09, 0.46,
    0.01, 0.15, -0.35, -0.21, -0.88, -1.16, -2.28, -1.82, -1.84, -0.88,
    0.33, 1.02, 1.60, 1.11, 0.50, 0.11, 0.45, 0.04, -0.42, -0.55,
    -0.17, 0.40, 0.43, -0.13, -0.28, -0.99, -1.34, -1.02, -0.70, 0.82,
    0.86, 0.91, 0.95, 0.22, -0.45, -0.56, -0.42, -0.27, -0.52, -0.43,
    -0.88, -0.51, -0.65, 0.01, 0.06, -0.29, 0.17, 0.22, 0.13, 0.40,
    0.15, 0.32, 0.34, 0.18, 0.58, 0.14, 0.01, -0.31, -0.45, -0.08,
    -0.51, -1.04, -0.88, 0.04, 0.11, 1.11, 1.11, 1.99, 1.85, 1.39,
    0.57, 0.08, -0.35, -0.05, -0.38, 0.18, 0.06, 0.20, -0.58, -1.09,
    -1.25, -0.74, -0.24, 0.40, 1.07, 0.68, -0.45, -1.22, -1.59, -1.82,
    -1.66, -0.70, -0.28, 0.26, 0.66, 0.54, 0.73, 1.20, 0.89, 0.54,
    -0.38, -0.83, -1.09, -1.41, -1.48, -0.52, 0.89, 1.74, 1.73, 1.21,
    0.61, 0.26, -0.24, -0.37, -0.42, 0.33, 0.72, 1.00, 1.27, 1.42,
    0.96, 0.65, 0.61, 0.26, -0.13, -0.24, -0.60, -0.73, -0.35, 0.18,
    0.47, 0.50, 0.89, 1.31, 0.82, 0.01, -0.74, -1.38, -1.43, -1.62,
    -1.54, -1.09, -0.45, 0.11, 0.57, 1.04, 1.42, 1.07, 1.55, 1.18,
    0.79, 0.57, -0.45, -1.23, -1.58, -1.09, -0.81, -0.93, -0.74, -0.38,
    -0.03, 0.15, 0.18, -0.28, -0.17, -0.28, -0.84, -0.52, 0.04, 0.89,
    1.10, 1.00, 0.77, 1.11, 1.18, 0.61, 0.18, -0.45, -0.95, -1.18,
    -0.93, -1.15, -0.74, -0.54, -0.28, -0.37, -0.26, -0.52, -0.61, -0.31,
    -0.15, -0.42, 0.33, 1.04, 1.30, 1.55, 1.76, 1.43, 1.07, 0.47,
    -0.17, -0.88, -1.20, -1.30, -0.60, -0.42, -0.03, -0.13, -0.31, 0.33,
    0.57, 0.36, 0.57, 0.79, 1.12, 0.57, 0.86, -0.45, -0.74, -1.34,
    -1.73, -1.18, -0.79, -1.23, -0.95, -1.29, -1.23, -0.45, 0.18, 0.56,
    0.65, 0.33, 0.22, 0.33, 0.18, 0.17, -0.05, -0.10, -0.24, 0.11,
    0.82, 0.88, 1.11, 1.21, 0.93, 0.86, 0.40, 0.06, 0.15, 0.36,
    0.57, 0.65, 0.77, 0.54, -0.17, -0.17, -0.45, -0.58, -0.06, 0.22,
    0.52, 0.40, -0.10, -0.38, -0.54, -0.06, 0.11, 0.22, -0.03, -0.13,
    0.08, 0.11, 0.34, 0.11, -0.35, -0.28, -0.67, -0.74, -0.70, -1.02,
    -0.60, -0.38, -0.17, 0.11, 0.33, 0.40, 0.56, 0.33, 0.13, 0.04,
    -0.24, -0.28, -0.38, -0.52, -0.61, -0.28, -0.03, 0.47, 0.72, 0.57,
    0.54, 0.34, 0.11, -0.21, -0.45, -0.38, -0.52, -0.35, 0.04, 0.49,
    0.43, 0.26, 0.26, 0.15, 0.36, 0.57, 0.40, 0.33, 0.04, -0.31,
    -0.51, -0.33, -0.26, -0.03, 0.50, 0.89, 1.14, 1.27, 1.21, 0.96,
    0.36, -0.17, -0.88, -1.70, -2.16, -2.21, -1.77, -1.71, -1.46, -1.45,
    -1.30, -0.74, -0.31, 0.33, 0.61, 0.70, 1.00, 1.28, 1.23, 1.14,
    1.09, 0.45, 0.40, 0.26, 0.26, 0.33, 0.61, 0.45, 0.02, -0.10,
    -0.17, -0.03, 0.26, 0.40, 0.68, 0.96, 0.93, 1.07, 1.11, 0.86,
    0.54, 0.50, 0.08, -0.42, -0.74, -0.67, -0.60, -0.58, -0.52, -0.45,
    -0.28, -0.17, 0.18, 0.33, 0.41, 0.04, -0.17, -0.17, -0.10, 0.18,
    0.36, 0.61, 0.65, 0.40, 0.11, -0.24, -0.31, -0.49, -0.56, -0.74,
    -0.87, -0.63, -0.17, 0.15, 0.18, 0.26, 0.15, 0.04, -0.17, -0.45,
    -0.74, -0.86, -0.81, -0.56, -0.13, 0.04, 0.11, 0.33, 0.50, 0.59,
    0.54, 0.40, 0.26, 0.22, 0.33, 0.37, 0.24, 0.68, 1.09, 1.11,
    1.13, 0.89, 0.86, 0.47, 0.01, -0.52, -0.95, -1.16, -1.41, -1.54,
    -1.23, -0.88, -0.10, 0.11, 0.24, 0.22, 0.04, -0.03, 0.12, -0.03,
    0.11, 0.29, 0.40, 0.11, -0.42, -0.70, -0.63, -0.60, -0.52, 0.11,
    0.79, 0.82, 0.57, 0.33, -0.03, -0.24, -0.35, -0.26, -0.21, 0.18,
    0.68, 0.88, 0.68, 0.33, -0.03, -0.45, -0.42, -0.24, -0.03, 0.18,
    0.72, 0.79, 0.84, 0.68, 0.40, 0.22, -0.03, -0.42, -0.60, -0.88,
    -1.04, -0.84, -0.60, -0.35, -0.24, -0.13, 0.01, 0.08, 0.18, 0.34,
    0.17, 0.30, 0.26, 0.29, 0.17, 0.26, 0.30, 0.18, 0.22,
]

# displacement, in units of 1e-4 cm
disp_time = [
    0.00, 0.11, 0.22, 0.30, 0.44, 0.59, 0.70, 0.81, 0.92, 1.07,
    1.20, 1.31, 1.42, 1.55, 1.66, 1.78, 1.89, 2.04, 2.18, 2.29,
    2.41, 2.55, 2.66, 2.81, 2.92, 3.05, 3.18, 3.35, 3.44, 3.55,
    3.66, 3.77, 3.89, 4.03, 4.14, 4.29, 4.48, 4.63, 4.77, 4.88,
    5.05, 5.22, 5.37, 5.49, 5.62, 5.74, 5.85, 5.98, 6.11, 6.25,
    6.40, 6.55, 6.66, 6.77, 6.88, 7.03, 7.14, 7.25, 7.36, 7.47,
    7.59, 7.70, 7.81, 7.96, 8.10, 8.21, 8.33, 8.44, 8.55, 8.66,
    8.81, 8.92, 9.03, 9.14, 9.25, 9.36, 9.47, 9.58, 9.69, 9.81,
    9.92, 10.03, 10.14, 10.25, 10.36, 10.47, 10.58, 10.66, 10.77, 10.88,
    10.99, 11.10, 11.21, 11.32, 11.43, 11.54, 11.66, 11.81, 11.92, 12.03,
    12.14, 12.25, 12.36, 12.51, 12.62, 12.73, 12.84, 12.95, 13.06, 13.17,
    13.28, 13.40, 13.51, 13.62, 13.73, 13.84, 13.95, 14.10, 14.21, 14.32,
    14.43, 14.55, 14.65, 14.76, 14.88, 14.99, 15.10, 15.21, 15.32, 15.43,
    15.54, 15.62, 15.73, 15.84, 15.99, 16.10, 16.21, 16.32, 16.44, 16.55,
    16.65, 16.76, 16.87, 16.98, 17.10, 17.21, 17.32, 17.43, 17.54, 17.65,
    17.76, 17.87, 17.98, 18.09, 18.21, 18.32, 18.43, 18.54, 18.65, 18.76,
    18.87, 18.98, 19.09, 19.21, 19.32, 19.43, 19.50, 19.61, 19.76, 19.87,
    19.98, 20.09, 20.20, 20.32, 20.43, 20.54, 20.65, 20.76, 20.87, 20.96,
    21.09, 21.20, 21.31, 21.42, 21.54, 21.69, 21.80, 21.91, 22.02, 22.13,
    22.24, 22.35, 22.47, 22.58, 22.69, 22.80, 22.89, 23.02, 23.13, 23.24,
    23.35, 23.46, 23.57, 23.68, 23.79, 23.91, 24.02, 24.16, 24.28, 24.39,
    24.50, 24.61, 24.72, 24.83, 24.94, 25.05, 25.16, 25.27, 25.38, 25.50,
    25.61, 25.72, 25.83, 25.94, 26.09, 26.20, 26.31, 26.42, 26.54, 26.65,
    26.77, 26.86, 26.97, 27.09, 27.20, 27.31, 27.42, 27.53, 27.68, 27.79,
    27.90, 27.98, 28.09, 28.20, 28.31, 28.46, 28.61, 28.72, 28.84, 28.95,
    29.06, 29.17, 29.24, 29.35, 29.46, 29.54, 29.65, 29.76, 29.87, 29.98,
    30.09, 30.20, 30.28, 30.39, 30.50, 30.61, 30.72, 30.83, 30.92, 31.05,
    31.16, 31.27, 31.39, 31.48, 31.57, 31.68, 31.79, 31.90, 32.01, 32.13,
    32.24, 32.35, 32.46, 32.57, 32.68, 32.77, 32.87, 32.98, 33.09, 33.20,
    33.31, 33.42, 33.53, 33.68, 33.79, 33.90, 33.97, 34.09, 34.20, 34.31,
    34.42, 34.53, 34.66, 34.79, 34.90, 35.01, 35.12, 35.23, 35.38, 35.49,
    35.60, 35.71, 35.82, 35.93, 36.04, 36.15, 36.27, 36.38, 36.49, 36.58,
    36.67, 36.78, 36.89, 37.01, 37.12, 37.23, 37.34, 37.45, 37.56, 37.67,
    37.78, 37.89, 38.02, 38.13, 38.24, 38.35, 38.48, 38.59, 38.70, 38.81,
    38.93, 39.07, 39.18, 39.30, 39.41, 39.52, 39.63, 39.74, 39.87, 40.00,
    40.11, 40.22, 40.33, 40.44, 40.55, 40.67, 40.78, 40.89, 41.00, 41.11,
    41.22, 41.33, 41.44, 41.55, 41.66, 41.77, 41.88, 42.00, 42.11, 42.22,
    42.33, 42.44, 42.55, 42.66, 42.77, 42.85, 42.96, 43.11, 43.22, 43.33,
    43.48, 43.59, 43.70, 43.81, 43.90, 44.03, 44.14, 44.25, 44.36, 44.47,
    44.58, 44.69, 44.80, 44.92, 45.03, 45.14, 45.25, 45.36, 45.47, 45.58,
    45.69, 45.78, 45.88, 45.99, 46.10, 46.25, 46.36, 46.47, 46.58, 46.71,
    46.84, 46.95, 47.06, 47.18, 47.29, 47.40, 47.51, 47.64, 47.77, 47.87,
    47.98, 48.09, 48.20, 48.32, 48.43, 48.52, 48.61, 48.72, 48.83, 48.94,
    49.06, 49.17, 49.28, 49.39, 49.50, 49.61, 49.70, 49.80, 49.91, 50.02,
    50.13, 50.24, 50.35, 50.46, 50.57, 50.69, 50.80, 50.91, 51.02, 51.13,
    51.24, 51.35, 51.46, 51.57, 51.68, 51.79, 51.90, 52.02, 52.16, 52.29,
    52.40, 52.51, 52.62, 52.73, 52.85, 52.99, 53.10, 53.21, 53.33, 53.44,
    53.55, 53.66, 53.77, 53.88, 53.99, 54.12, 54.25, 54.36, 54.49, 54.62,
    54.74, 54.86, 54.99, 55.10, 55.25, 55.36, 55.47, 55.58, 55.69, 55.80,
    55.91, 56.02, 56.13, 56.24, 56.35, 56.46, 56.57, 56.68, 56.79, 56.94,
]
disp_tenth_milli = [
    0.55, 0.15, 0.23, -0.08, -0.56, 0.34, 0.66, 0.23, -0.19, -0.64,
    -0.32, -0.62, -1.02, -0.46, 0.23, 0.42, 0.53, 0.55, 0.92, 0.34,
    0.21, 0.47, -0.08, -0.64, -0.30, 0.00, -0.32, 0.32, 0.02, -0.35,
    0.23, 0.82, 0.79, 1.05, 0.76, -0.83, -1.44, -1.04, 0.45, 1.35,
    2.01, 1.19, 0.66, 0.18, 0.00, 0.45, 1.51, 1.83, 1.19, -0.08,
    -1.68, -3.59, -4.33, -4.52, -3.59, -1.89, -1.36, -0.93, -1.57, -2.95,
    -3.59, -3.80, -2.85, -1.68, -0.40, 0.45, 1.19, 2.04, 3.63, 4.27,
    4.61, 4.37, 4.06, 3.79, 3.63, 3.93, 3.63, 2.57, 1.30, 0.23,
    -0.24, 0.45, 1.08, 1.72, 1.93, 1.40, 0.23, 0.15, 0.34, 0.66,
    0.91, 0.45, -0.72, -1.25, -1.41, -1.04, -0.91, -0.77, -0.51, -0.30,
    -0.72, -1.25, -2.10, -2.85, -3.29, -2.74, -1.89, -0.72, -0.35, -0.19,
    -1.04, -2.42, -3.69, -4.33, -4.65, -5.50, -6.56, -6.88, -5.92, -4.12,
    -1.78, 0.66, 2.99, 3.95, 4.16, 4.69, 5.86, 6.50, 6.77, 6.28,
    4.90, 2.57, -0.40, -2.10, -2.58, -2.42, -1.68, -0.83, -0.30, 0.23,
    1.30, 2.14, 2.78, 2.97, 2.83, 3.42, 4.59, 5.38, 5.31, 5.12,
    4.90, 4.06, 3.21, 2.14, 0.87, -0.93, -2.63, -4.65, -6.35, -7.14,
    -6.56, -4.97, -2.95, -1.47, -0.88, -0.72, -0.56, -0.83, -1.47, -1.04,
    -0.81, -1.15, -2.31, -3.27, -3.54, -2.53, -1.04, 0.23, 0.98, 1.08,
    0.66, 0.23, 0.02, -0.40, -0.83, -1.06, -0.72, -0.30, 0.02, 0.45,
    0.98, 1.51, 1.83, 2.14, 2.36, 2.78, 2.87, 2.46, 1.93, 1.51,
    0.87, 0.02, -0.42, -0.30, 0.23, 1.72, 3.31, 4.29, 3.63, 2.46,
    1.61, 0.87, 0.45, 0.02, -0.93, -2.31, -3.16, -3.35, -2.74, -1.68,
    -1.08, -1.68, -3.16, -4.65, -5.41, -4.86, -3.59, -2.31, -0.83, 0.34,
    0.76, 0.23, -1.04, -2.10, -2.42, -1.47, 0.66, 2.04, 2.52, 2.14,
    1.61, 1.42, 2.14, 3.10, 4.06, 4.53, 4.37, 3.52, 2.57, 1.40,
    0.45, -0.03, -0.17, 0.13, 0.66, 1.40, 1.67, 1.19, -0.40, -2.31,
    -3.80, -4.65, -4.97, -4.12, -2.53, -0.93, 0.66, 1.40, 1.72, 1.08,
    -0.62, -2.10, -2.63, -2.85, -2.42, -1.78, -1.25, -1.15, -0.93, -1.25,
    -1.04, 0.45, 1.72, 2.68, 3.31, 4.06, 4.21, 3.63, 2.57, 1.08,
    -0.30, -0.93, -1.04, -1.15, -1.31, -1.52, -1.36, -1.25, 0.02, 1.51,
    2.99, 4.06, 4.52, 3.84, 2.14, 0.45, -0.83, -1.41, -1.55, -1.25,
    -0.51, -0.19, 0.45, 0.87, 0.23, -1.25, -2.85, -3.48, -4.44, -4.81,
    -4.22, -3.06, -2.00, -1.25, -0.77, -0.49, -0.35, -0.30, 0.23, 1.30,
    2.25, 2.89, 3.42, 3.10, 2.78, 2.89, 3.18, 2.78, 1.93, 1.08,
    0.76, 0.94, 0.45, -0.19, -0.35, -0.35, -0.56, -0.59, -0.38, -0.62,
    -1.25, -2.00, -2.63, -3.11, -3.29, -2.74, -1.89, -1.15, -0.72, -0.59,
    -0.72, -1.04, -1.15, -0.62, 0.45, 1.19, 1.42, 1.08, 0.66, 0.29,
    0.55, 1.19, 1.51, 1.67, 1.83, 2.27, 2.34, 1.93, 1.19, 0.66,
    0.36, 0.76, 1.72, 2.57, 2.87, 2.14, 0.23, -2.10, -4.12, -5.61,
    -6.35, -6.58, -5.92, -4.22, -2.31, -0.62, 0.87, 1.83, 2.25, 2.46,
    2.68, 2.89, 3.01, 2.57, 2.20, 2.14, 2.46, 2.89, 3.42, 3.74,
    3.42, 2.57, 1.30, 0.02, -1.04, -1.89, -2.42, -2.63, -2.31, -1.78,
    -1.66, -1.89, -1.97, -1.47, -0.83, -0.51, -0.40, -0.83, -1.25, -1.89,
    -2.42, -2.74, -2.42, -1.78, -1.25, -0.93, -0.88, -1.15, -1.68, -1.89,
    -1.47, -0.83, 0.23, 1.08, 1.72, 1.93, 2.14, 2.46, 2.78, 3.84,
    4.59, 4.85, 4.96, 4.59, 2.99, 1.19, -0.40, -1.68, -2.42, -2.00,
    -1.36, -1.04, -0.72, -0.40, -0.08, 0.23, -0.30, -0.83, -1.25, -1.41,
    -0.62, 0.45, 0.61, 0.34, 0.02, -0.21, 0.23, 0.98, 1.40, 0.87,
    0.23, 0.02, 0.45, 1.08, 1.45, 1.19, 0.45, -0.62, -1.68, -2.31,
    -2.58, -2.61, -2.42, -2.10, -1.68, -1.25, -0.83, -0.40, -0.19, 0.15,
]

time_ticks = [0, 10, 20, 30, 40, 50]
acc_ticks = [-0.04, -0.02, 0.0, 0.02, 0.04]
vel_ticks = [-0.002, -0.001, 0.0, 0.001, 0.002]
disp_ticks = [-0.0005, 0.0, 0.0005]

acc = np.array(acc_milli) * 1e-3
vel = np.array(vel_milli) * 1e-3
disp = np.array(disp_tenth_milli) * 1e-4

FONT = "DejaVu Sans"

fig = go.Figure()
fig.add_trace(go.Scatter(x=acc_time, y=acc, mode="lines",
                         line=dict(color="black", width=5), xaxis="x", yaxis="y"))
fig.add_trace(go.Scatter(x=vel_time, y=vel, mode="lines",
                         line=dict(color="#0000ff", width=5.5), xaxis="x2", yaxis="y2"))
fig.add_trace(go.Scatter(x=disp_time, y=disp, mode="lines",
                         line=dict(color="#ff0000", width=5.5, shape="spline", smoothing=0.6),
                         xaxis="x3", yaxis="y3"))


def x_axis(anchor):
    return dict(
        anchor=anchor, range=[0, 57], tickvals=time_ticks,
        showline=True, mirror=True, linecolor="black", linewidth=3,
        ticks="outside", ticklen=15, tickwidth=3, tickcolor="black",
        ticklabelstandoff=-6,
        showgrid=True, gridcolor="#b0b0b0", gridwidth=3, zeroline=False,
        tickfont=dict(family=FONT, size=41, color="black"),
        title=dict(text="Time (s)", font=dict(family=FONT, size=58, color="black"), standoff=20),
    )


def y_axis(anchor, domain, rng, ticks, fmt, label):
    return dict(
        anchor=anchor, domain=domain, range=rng, tickvals=ticks, tickformat=fmt,
        showline=True, mirror=True, linecolor="black", linewidth=3,
        ticks="outside", ticklen=15, tickwidth=3, tickcolor="black",
        showgrid=True, gridcolor="#b0b0b0", gridwidth=3, zeroline=False,
        tickfont=dict(family=FONT, size=41, color="black"),
        title=dict(text=label, font=dict(family=FONT, size=58, color="black"), standoff=16),
    )


# the page body adds an 8px offset, so the figure is trimmed to fit the window
fig.update_layout(
    width=3584, height=2384,
    margin=dict(l=321, r=40, t=74, b=180),
    paper_bgcolor="white", plot_bgcolor="white",
    showlegend=False,
    font=dict(family=FONT, color="black"),
    xaxis=x_axis("y"),
    xaxis2=x_axis("y2"),
    xaxis3=x_axis("y3"),
    yaxis=y_axis("x", [0.7272, 1.0], [-0.0503, 0.0503], acc_ticks, ".2f",
                 "Acceleration (cm/s/s)"),
    yaxis2=y_axis("x2", [0.3634, 0.6366], [-0.00253, 0.00253], vel_ticks, ".3f",
                  "Velocity (cm/s)"),
    yaxis3=y_axis("x3", [0.0, 0.2723], [-0.00078, 0.00078], disp_ticks, ".4f",
                  "Displacement (cm)"),
)

fig.write_html("out.html")
